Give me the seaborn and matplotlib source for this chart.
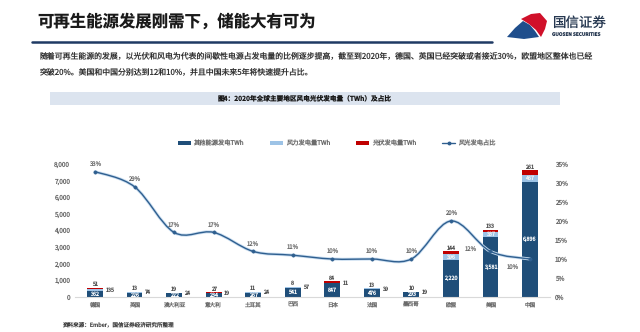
import numpy as np
import matplotlib
matplotlib.use("Agg")
import matplotlib.pyplot as plt
import seaborn as sns
from matplotlib.path import Path
from matplotlib.patches import PathPatch, Rectangle, Polygon, Patch
from matplotlib.lines import Line2D
from matplotlib.ticker import FuncFormatter, FixedLocator

# ---------------- data ----------------
countries = ["德国", "英国", "澳大利亚", "意大利", "土耳其", "巴西", "日本", "法国", "墨西哥", "欧盟", "美国", "中国"]
other = [362, 226, 222, 234, 267, 541, 847, 476, 293, 2220, 3581, 6896]   # 其他能源发电TWh
wind = [135, 74, 24, 19, 24, 57, 11, 39, 19, 396, 337, 467]                # 风力发电量TWh
solar = [51, 13, 19, 27, 11, 8, 84, 13, 10, 144, 133, 261]                 # 光伏发电量TWh
ratio = [0.33, 0.29, 0.17, 0.17, 0.12, 0.11, 0.10, 0.10, 0.10, 0.20, 0.12, 0.10]  # 风光发电占比
left_ticks = [0, 1000, 2000, 3000, 4000, 5000, 6000, 7000, 8000]
right_ticks = [0, 0.05, 0.10, 0.15, 0.20, 0.25, 0.30, 0.35]
series_names = ["其他能源发电TWh", "风力发电量TWh", "光伏发电量TWh", "风光发电占比"]

title = "可再生能源发展刚需下，储能大有可为"
para1 = "随着可再生能源的发展，以光伏和风电为代表的间歇性电源占发电量的比例逐步提高，截至到2020年，德国、英国已经突破或者接近30%，欧盟地区整体也已经"
para2 = "突破20%。美国和中国分别达到12和10%，并且中国未来5年将快速提升占比。"
chart_title = "图4：2020年全球主要地区风电光伏发电量（TWh）及占比"
source = "资料来源：Ember，国信证券经济研究所整理"

# ---------------- style ----------------
sns.set_theme(style="white")
plt.rcParams['font.family'] = ['Noto Sans CJK SC', 'DejaVu Sans']
plt.rcParams['text.hinting'] = 'no_hinting'

C_OTHER = "#1F4E79"
C_WIND = "#9DC3E6"
C_SOLAR = "#C00000"
C_LINE = "#2F5F8F"
C_GLOW = "#C9DDF0"
C_TXT = "#6B6B6B"

W, H = 640, 332
fig = plt.figure(figsize=(6.4, 3.32), dpi=100)
fig.patch.set_facecolor("white")

def fx(x):
    return x / W

def fy(y):
    return 1 - y / H

# ---------------- slide header ----------------
fig.text(fx(37), fy(22), title, fontsize=11.8, fontweight='bold', color='#1a1a1a',
         ha='left', va='center')
fig.add_artist(Line2D([fx(32), fx(492)], [fy(42), fy(42)], lw=1.8, color='#1F3A64',
                      transform=fig.transFigure))

# logo
red_pts = [(521, 19), (531, 14), (540, 13), (547, 21), (545, 29), (541, 37), (536, 30), (529, 24)]
blue_pts = [(507, 37), (515, 28), (523, 21), (530, 25), (535, 31), (539, 37), (524, 39)]
fig.add_artist(Polygon([(fx(a), fy(b)) for a, b in blue_pts], closed=True, color='#1F4E8C',
                       transform=fig.transFigure, lw=0))
fig.add_artist(Polygon([(fx(a), fy(b)) for a, b in red_pts], closed=True, color='#D0102A',
                       transform=fig.transFigure, lw=0))
fig.text(fx(552), fy(23), "国信证券", fontsize=9.7, color='#24364F', ha='left', va='center')
fig.text(fx(552), fy(34), "GUOSEN SECURITIES", fontsize=3.4, fontweight='bold', color='#24364F',
         ha='left', va='center')

# paragraph
fig.text(fx(40), fy(57), para1, fontsize=5.68, color='#333333', ha='left', va='center')
fig.text(fx(40), fy(73), para2, fontsize=5.68, color='#333333', ha='left', va='center')

# chart title band
fig.add_artist(Rectangle((fx(50), fy(105)), fx(560) - fx(50), (105 - 92) / H,
                         color='#DCE4EF', lw=0, transform=fig.transFigure))
fig.text(fx(305), fy(98.5), chart_title, fontsize=4.8, fontweight='bold', color='#1a1a1a',
         ha='center', va='center')

# source
fig.text(fx(62), fy(325), source, fontsize=4.0, color='#404040', ha='left', va='center')

# ---------------- chart ----------------
ax = fig.add_axes([75.25 / W, fy(297), 474.5 / W, 133 / H])
ax.set_facecolor("none")

bottom_wind = [o for o in other]
bottom_solar = [o + w for o, w in zip(other, wind)]

sns.barplot(x=countries, y=other, color=C_OTHER, width=0.4, errorbar=None, ax=ax,
            saturation=1, linewidth=0)
sns.barplot(x=countries, y=wind, bottom=bottom_wind, color=C_WIND, width=0.4, errorbar=None,
            ax=ax, saturation=1, linewidth=0)
sns.barplot(x=countries, y=solar, bottom=bottom_solar, color=C_SOLAR, width=0.4, errorbar=None,
            ax=ax, saturation=1, linewidth=0)

ax.set_xlim(-0.5, len(countries) - 0.5)
ax.set_ylim(left_ticks[0], left_ticks[-1])
ax.yaxis.set_major_locator(FixedLocator(left_ticks))
ax.yaxis.set_major_formatter(FuncFormatter(lambda v, p: f"{int(v):,}"))
ax.set_xlabel("")
ax.set_ylabel("")
ax.tick_params(axis='y', labelsize=4.6, colors=C_TXT, length=0, pad=3.5)
ax.tick_params(axis='x', labelsize=4.0, colors=C_TXT, length=0, pad=3.5)
for s in ['top', 'right', 'left']:
    ax.spines[s].set_visible(False)
ax.spines['bottom'].set_color('#D9D9D9')
ax.spines['bottom'].set_linewidth(0.8)
ax.grid(False)

# bar value labels
for i in range(len(countries)):
    ax.text(i, other[i] / 2, f"{other[i]:,}", ha='center', va='center', color='white', fontsize=3.9)
    wy = other[i] + wind[i] / 2
    if wind[i] > 200:
        ax.text(i, wy, f"{wind[i]:,}", ha='center', va='center', color='#F2F2F2', fontsize=3.9)
    else:
        ax.text(i + 0.26, wy, f"{wind[i]:,}", ha='left', va='center', color='#505050', fontsize=3.9)
    ax.text(i, other[i] + wind[i] + solar[i] + 20, f"{solar[i]:,}", ha='center', va='bottom',
            color='#505050', fontsize=3.9)

# ratio line on twin axis
ax2 = ax.twinx()
ax2.set_ylim(right_ticks[0], right_ticks[-1])
ax2.yaxis.set_major_locator(FixedLocator(right_ticks))
ax2.yaxis.set_major_formatter(FuncFormatter(lambda v, p: f"{round(v * 100)}%"))
ax2.tick_params(axis='y', labelsize=4.6, colors=C_TXT, length=0, pad=3.5)
for s in ['top', 'right', 'left', 'bottom']:
    ax2.spines[s].set_visible(False)
ax2.grid(False)

xs = np.arange(len(countries), dtype=float)
ys = np.array(ratio, dtype=float)
pts = np.column_stack([xs, ys])
verts = [tuple(pts[0])]
codes = [Path.MOVETO]
n = len(pts)
for i in range(n - 1):
    p0 = pts[i - 1] if i > 0 else pts[i]
    p1 = pts[i]
    p2 = pts[i + 1]
    p3 = pts[i + 2] if i + 2 < n else pts[i + 1]
    c1 = p1 + (p2 - p0) / 6.0
    c2 = p2 - (p3 - p1) / 6.0
    verts += [tuple(c1), tuple(c2), tuple(p2)]
    codes += [Path.CURVE4, Path.CURVE4, Path.CURVE4]
curve = Path(verts, codes)
ax2.add_patch(PathPatch(curve, facecolor='none', edgecolor=C_GLOW, lw=2.2, capstyle='round'))
ax2.add_patch(PathPatch(curve, facecolor='none', edgecolor=C_LINE, lw=1.0, capstyle='round'))
sns.scatterplot(x=xs, y=ys, ax=ax2, s=6, color=C_LINE, edgecolor=C_LINE, linewidth=0.3,
                legend=False, zorder=5)
ax2.set_xlim(-0.5, len(countries) - 0.5)

for i, r in enumerate(ratio):
    lab = f"{round(r * 100)}%"
    if countries[i] == "美国":
        ax2.annotate(lab, (i, r), xytext=(-14.5, 2), textcoords='offset points',
                     ha='center', va='center', fontsize=4.3, color=C_TXT)
    elif countries[i] == "中国":
        ax2.annotate(lab, (i, r), xytext=(-12.5, -5.8), textcoords='offset points',
                     ha='center', va='center', fontsize=4.3, color=C_TXT)
    else:
        ax2.annotate(lab, (i, r), xytext=(0, 5.6), textcoords='offset points',
                     ha='center', va='center', fontsize=4.3, color=C_TXT)

# legend
handles = [Patch(facecolor=C_OTHER, lw=0), Patch(facecolor=C_WIND, lw=0),
           Patch(facecolor=C_SOLAR, lw=0),
           Line2D([0], [0], color=C_LINE, lw=1.0, marker='o', markersize=1.8)]
fig.legend(handles, series_names, loc='center', bbox_to_anchor=(fx(336.5), fy(143)),
           ncol=4, frameon=False, fontsize=4.5, labelcolor=C_TXT, handlelength=2.1,
           handleheight=0.5, columnspacing=4.2, handletextpad=0.4)

fig.savefig("out.png", dpi=100, facecolor='white')
